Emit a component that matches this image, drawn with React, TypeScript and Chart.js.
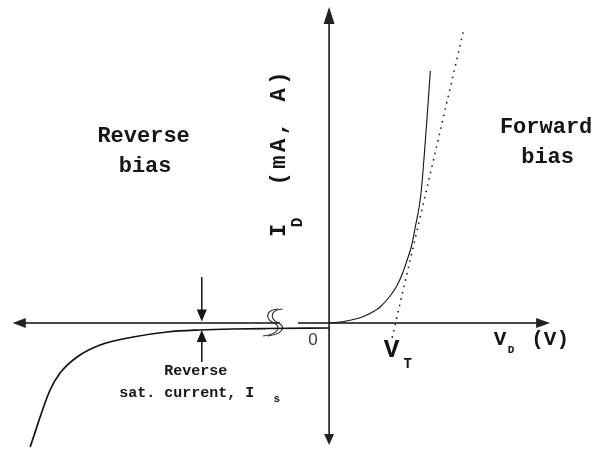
import React, { useEffect, useRef } from "react";
import { Chart, registerables } from "chart.js";

Chart.register(...registerables);

// Forward-bias branch: diode voltage (V) vs current (mA)
const forwardV = [0, 0.12, 0.223, 0.32, 0.4, 0.48, 0.541, 0.647, 0.718, 0.78, 0.824, 0.877, 0.912, 0.973, 1.023, 1.074];
const forwardI = [0, 0.1, 0.27, 0.5, 0.8, 1.2, 1.6, 2.7, 3.7, 5.0, 6.2, 7.8, 9.5, 12.8, 18.5, 25.2];

// Reverse-bias branch (voltage axis is broken just left of the origin)
const reverseV = [-3.171, -2.959, -2.853, -2.673, -2.429, -2.079, -1.718, -1.368, -1.018, -0.658, 0];
const reverseI = [-12.4, -6.7, -5.0, -3.4, -2.2, -1.4, -0.9, -0.7, -0.6, -0.55, -0.5];

// Tangent to the conducting region; it meets the V axis at the threshold voltage
const tangentV = [0.67, 1.42];
const tangentI = [-1.4, 29.0];

const thresholdV = 0.7;
const satArrowV = -1.35;
const satCurrentI = -0.7;

// Axis extents and the break on the voltage axis
const axisV = [-3.355, 2.344];
const axisI = [-12.2, 31.6];
const axisBreakV = [-0.52, -0.329];

const viewV = [-3.49, 2.82];
const viewI = [-12.6, 32.3];

const MONO = '"Liberation Mono", "DejaVu Sans Mono", monospace';
const SANS = '"Liberation Sans", Arial, sans-serif';

function toPoints(xs: number[], ys: number[]) {
  return xs.map((v, i) => ({ x: v, y: ys[i] }));
}

function arrowHead(
  ctx: CanvasRenderingContext2D,
  tx: number,
  ty: number,
  dx: number,
  dy: number,
  len: number,
  width: number
) {
  const bx = tx - dx * len;
  const by = ty - dy * len;
  const nx = -dy;
  const ny = dx;
  ctx.beginPath();
  ctx.moveTo(tx, ty);
  ctx.lineTo(bx + (nx * width) / 2, by + (ny * width) / 2);
  ctx.lineTo(bx - (nx * width) / 2, by - (ny * width) / 2);
  ctx.closePath();
  ctx.fill();
}

function segment(ctx: CanvasRenderingContext2D, x1: number, y1: number, x2: number, y2: number) {
  ctx.beginPath();
  ctx.moveTo(x1, y1);
  ctx.lineTo(x2, y2);
  ctx.stroke();
}

function label(
  ctx: CanvasRenderingContext2D,
  text: string,
  x: number,
  y: number,
  font: string,
  align: CanvasTextAlign = "center"
) {
  ctx.font = font;
  ctx.textAlign = align;
  ctx.textBaseline = "alphabetic";
  ctx.fillText(text, x, y);
}

const diodeDecor = {
  id: "diodeDecor",
  beforeDatasetsDraw(chart: any) {
    const { ctx, scales } = chart;
    const px = (v: number) => scales.x.getPixelForValue(v);
    const py = (v: number) => scales.y.getPixelForValue(v);
    const ox = px(0);
    const oy = py(0);

    ctx.save();
    // Voltage axis (with break)
    ctx.strokeStyle = "#4a4a4a";
    ctx.fillStyle = "#222";
    ctx.lineWidth = 2;
    segment(ctx, px(axisV[0]) + 8, oy, px(axisBreakV[0]), oy);
    segment(ctx, px(axisBreakV[1]), oy, px(axisV[1]) - 8, oy);
    arrowHead(ctx, px(axisV[0]), oy, -1, 0, 13, 10);
    arrowHead(ctx, px(axisV[1]), oy, 1, 0, 14, 10);

    // Current axis
    ctx.strokeStyle = "#1a1a1a";
    ctx.lineWidth = 1.6;
    segment(ctx, ox, py(axisI[0]) - 6, ox, py(axisI[1]) + 10);
    arrowHead(ctx, ox, py(axisI[1]), 0, -1, 17, 11);
    arrowHead(ctx, ox, py(axisI[0]), 0, 1, 11, 10);

    // Axis-break marks
    const bx = px(axisBreakV[0]) - 8;
    ctx.strokeStyle = "#222";
    ctx.lineWidth = 1.1;
    for (const off of [0, 4.5]) {
      const cx = bx + off;
      ctx.beginPath();
      ctx.moveTo(cx + 6, oy - 14);
      ctx.bezierCurveTo(cx - 7, oy - 13, cx - 7, oy - 4, cx + 2, oy);
      ctx.bezierCurveTo(cx + 10, oy + 4, cx + 6, oy + 11, cx - 9, oy + 13);
      ctx.stroke();
    }
    ctx.restore();
  },
  afterDatasetsDraw(chart: any) {
    const { ctx, scales } = chart;
    const px = (v: number) => scales.x.getPixelForValue(v);
    const py = (v: number) => scales.y.getPixelForValue(v);
    const ox = px(0);
    const oy = py(0);

    ctx.save();
    ctx.fillStyle = "#151515";
    ctx.strokeStyle = "#151515";

    // Region captions
    label(ctx, "Reverse", ox - 185.5, oy - 181, `bold 22px ${MONO}`);
    label(ctx, "bias", ox - 184, oy - 151, `bold 22px ${MONO}`);
    label(ctx, "Forward", ox + 217, oy - 189.7, `bold 22px ${MONO}`);
    label(ctx, "bias", ox + 218.5, oy - 160, `bold 22px ${MONO}`);

    // Current axis title, rotated
    const titleChars = "(mA, A)".split("");
    const drawUp = (ch: string, bx: number, cy: number, font: string) => {
      ctx.save();
      ctx.translate(bx, cy);
      ctx.rotate(-Math.PI / 2);
      label(ctx, ch, 0, 0, font);
      ctx.restore();
    };
    drawUp("I", ox - 44, oy - 92.5, `bold 22px ${MONO}`);
    drawUp("D", ox - 27, oy - 100.5, `bold 16px ${MONO}`);
    titleChars.forEach((ch, i) => {
      drawUp(ch, ox - 44, oy - 144 - i * 16.8, `bold 22px ${MONO}`);
    });

    // Origin
    ctx.fillStyle = "#3a3a3a";
    label(ctx, "0", ox - 16, oy + 22, `17px ${SANS}`);
    ctx.fillStyle = "#151515";

    // Voltage axis title
    label(ctx, "V", ox + 171, oy + 22, `bold 21px ${MONO}`);
    label(ctx, "D", ox + 182, oy + 30, `bold 11px ${MONO}`);
    label(ctx, "(V)", ox + 221, oy + 22, `bold 21px ${MONO}`);

    // Threshold voltage
    const tx = px(thresholdV);
    label(ctx, "V", tx - 3.5, oy + 34, `bold 26px ${MONO}`);
    label(ctx, "T", tx + 12.5, oy + 45, `bold 14px ${MONO}`);

    // Reverse saturation current arrows and caption
    const sx = px(satArrowV);
    const sy = py(satCurrentI);
    ctx.lineWidth = 1.5;
    segment(ctx, sx, oy - 46, sx, oy - 12);
    arrowHead(ctx, sx, oy - 1.5, 0, 1, 12, 10);
    segment(ctx, sx, sy + 32, sx, sy + 10);
    arrowHead(ctx, sx, sy, 0, -1, 12, 10);

    label(ctx, "Reverse", sx - 6, oy + 52, `bold 15px ${MONO}`);
    label(ctx, "sat. current, I", sx - 15, oy + 74, `bold 15px ${MONO}`);
    label(ctx, "s", sx + 75, oy + 79, `bold 11px ${MONO}`);

    ctx.restore();
  },
};

export default function App() {
  const canvasRef = useRef<HTMLCanvasElement | null>(null);

  useEffect(() => {
    const canvas = canvasRef.current;
    if (!canvas) return;
    const chart = new Chart(canvas, {
      type: "scatter",
      data: {
        datasets: [
          {
            label: "Reverse bias",
            data: toPoints(reverseV, reverseI),
            showLine: true,
            borderColor: "#111",
            borderWidth: 1.7,
            pointRadius: 0,
            cubicInterpolationMode: "monotone",
          },
          {
            label: "Forward bias",
            data: toPoints(forwardV, forwardI),
            showLine: true,
            borderColor: "#111",
            borderWidth: 1.1,
            pointRadius: 0,
            cubicInterpolationMode: "monotone",
          },
          {
            label: "Tangent",
            data: toPoints(tangentV, tangentI),
            showLine: true,
            borderColor: "#222",
            borderWidth: 1.8,
            borderDash: [0, 6.5],
            borderCapStyle: "round",
            pointRadius: 0,
          },
        ],
      },
      options: {
        responsive: false,
        animation: false,
        layout: { padding: 0 },
        plugins: {
          legend: { display: false },
          tooltip: { enabled: false },
        },
        scales: {
          x: { type: "linear", min: viewV[0], max: viewV[1], display: false },
          y: { type: "linear", min: viewI[0], max: viewI[1], display: false },
        },
      },
      plugins: [diodeDecor],
    });
    return () => chart.destroy();
  }, []);

  return (
    <div style={{ position: "fixed", left: 0, top: 0, width: 595, height: 449, background: "#fff" }}>
      <canvas ref={canvasRef} width={595} height={449} style={{ display: "block" }} />
    </div>
  );
}
